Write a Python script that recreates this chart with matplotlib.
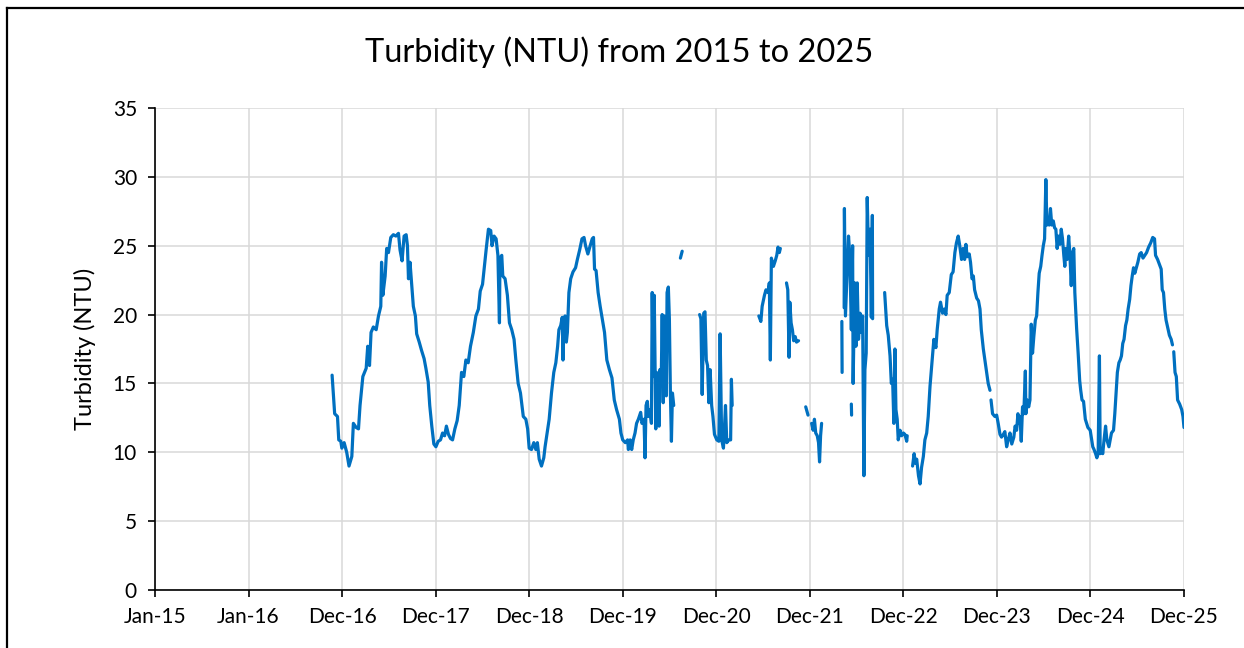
import matplotlib
matplotlib.use("Agg")
import matplotlib.pyplot as plt
import matplotlib.dates as mdates
from matplotlib.lines import Line2D
from datetime import datetime
import numpy as np

plt.rcParams['font.family'] = ['Lato', 'DejaVu Sans']

title = "Turbidity (NTU) from 2015 to 2025"
ylabel = "Turbidity (NTU)"
start = datetime(2015, 1, 1)
tick_step = 365          # Excel date axis major unit (days)
n_ticks = 12
y_ticks = [0, 5, 10, 15, 20, 25, 30, 35]

# days since 1 Jan 2015 and turbidity; None = gap in the record
days = [
    691, 701, 712, 717, 725, 729, 738, 748, 757, 768, 774, 785, 794, 800, 811, 824,
    830, 837, 843, 852, 863, 872, 881, 884, 889, 898, 904, 911, 920, 930, 940, 950,
    956, 964, 972, 980, 985, 989, 995, 1002, 1008, 1016, 1021, 1031, 1040, 1050, 1057,
    1066, 1072, 1080, 1088, 1096, 1105, 1114, 1122, 1130, 1137, 1145, 1153, 1161, 1170,
    1179, 1187, 1196, 1205, 1213, 1222, 1231, 1242, 1252, 1262, 1269, 1278, 1284, 1292,
    1301, 1310, 1315, 1323, 1331, 1338, 1344, 1346, 1353, 1357, 1366, 1375, 1383, 1392,
    1401, 1408, 1417, 1426, 1437, 1447, 1454, 1460, 1469, 1478, 1486, 1492, 1499, 1508,
    1517, 1522, 1530, 1538, 1547, 1556, 1564, 1571, 1576, 1583, 1589, 1592, 1594, 1600,
    1605, 1609, 1615, 1622, 1631, 1641, 1648, 1657, 1666, 1674, 1680, 1689, 1698, 1706,
    1711, 1715, 1721, 1729, 1737, 1745, 1754, 1763, 1773, 1783, 1792, 1801, 1812, 1818,
    1825, 1835, 1844, 1847, 1854, 1860, 1866, 1873, 1879, 1886, 1895, 1900, 1908, 1912,
    1916, 1921, 1925, 1931, 1937, 1940, 1944, 1948, 1952, 1954, 1957, 1962, 1967, 1970,
    1975, 1979, 1983, 1987, 1991, 1995, 1998, 2003, 2007, 2011, 2015, 2019, 2024, None,
    2050, 2057, None,
    2125, 2130, 2135, 2141, 2146, 2151, 2156, 2161, 2166, 2172, 2177, 2183, 2192, 2200,
    2205, 2211, 2218, 2226, 2231, 2239, 2246, 2249, 2252, None,
    2356, 2364, 2369, 2378, 2384, 2392, 2397, 2401, 2405, 2413, 2420, 2426, 2431, 2436,
    2440, None,
    2464, 2469, 2474, 2477, 2482, 2487, 2492, 2498, 2503, 2511, None,
    2539, 2548, None,
    2562, 2568, 2573, 2578, 2584, 2589, 2593, 2597, 2601, None,
    2680, 2681, None,
    2689, 2690, 2694, 2706, 2711, 2717, 2722, 2724, 2730, 2735, 2740, 2745, 2751, 2756,
    2761, 2766, 2770, 2775, 2779, 2784, 2790, 2795, 2799, 2800, None,
    2717, 2718, None,
    2847, 2855, 2861, 2868, 2873, 2878, 2883, 2887, 2891, 2896, 2900, 2907, 2913, 2920,
    2926, 2933, 2935, None,
    2956, 2962, 2967, 2972, 2979, 2985, 2991, 2998, 3004, 3011, 3017, 3024, 3030, 3039,
    3047, 3052, 3060, 3065, 3073, 3080, 3086, 3091, 3099, 3107, 3114, 3121, 3127, 3134,
    3140, 3147, 3153, 3159, 3164, 3169, 3177, 3182, 3188, 3193, 3198, 3206, 3213, 3219,
    3224, 3232, 3238, 3245, 3251, 3258, None,
    3262, 3268, 3277, 3284, 3290, 3297, 3303, 3310, 3316, 3323, 3329, 3336, 3343, 3351,
    3356, 3362, 3367, 3371, 3375, 3380, 3385, 3390, 3396, 3398, 3403, 3409, 3414, 3419,
    3424, 3429, 3435, 3440, 3445, 3450, 3456, 3461, 3466, 3471, 3476, 3480, 3485, 3489,
    3494, 3499, 3505, 3510, 3515, 3520, 3525, 3531, 3536, 3541, 3546, 3550, 3554, 3559,
    3565, 3570, 3575, 3580, 3585, 3589, 3596, 3602, 3608, 3612, 3617, 3623, 3630, 3640,
    3649, 3655, 3659, 3664, 3670, 3675, 3680, 3685, 3688, 3693, 3698, 3703, 3709, 3714,
    3722, 3727, 3732, 3740, 3745, 3750, 3755, 3761, 3766, 3771, 3776, 3781, 3787, 3792,
    3797, 3803, 3808, 3813, 3818, 3823, 3829, 3835, 3842, 3848, 3855, 3862, 3869, 3877,
    3885, 3893, 3900, 3904, 3912, 3920, 3926, 3930, 3935, 3940, 3945, 3952, 3958, 3965,
    3970, None,
    3975, 3980, 3985, 3990, 3998, 4006, 4011, 4015,
]

ntu = [
    15.6, 12.8, 12.6, 10.9, 10.8, 10.3, 10.7, 10.0, 9.0, 9.7, 12.1, 11.8, 11.7, 13.4, 15.5, 16.1,
    17.7, 16.3, 18.7, 19.1, 18.9, 19.9, 20.6, 23.8, 21.4, 22.8, 24.8, 24.5, 25.6, 25.8, 25.7, 25.9,
    24.7, 23.9, 25.7, 25.8, 25.0, 22.6, 23.8, 22.1, 20.6, 19.9, 18.6, 18.0, 17.4, 16.8, 16.1,
    15.1, 13.4, 11.9, 10.6, 10.4, 10.8, 10.9, 11.4, 11.2, 11.9, 11.3, 11.0, 10.9, 11.7,
    12.3, 13.4, 15.8, 15.5, 16.7, 16.5, 17.7, 18.7, 19.9, 20.4, 21.7, 22.2, 23.3, 24.7,
    26.2, 26.1, 25.0, 25.7, 25.5, 24.3, 19.4, 24.1, 24.3, 22.8, 22.6, 21.4, 19.4, 18.9,
    18.2, 16.7, 15.0, 14.3, 12.6, 12.4, 11.7, 10.3, 10.2, 10.7, 10.2, 10.7, 9.5, 9.0,
    9.6, 10.4, 11.4, 12.4, 14.3, 15.8, 16.5, 17.7, 18.9, 19.2, 19.8, 16.7, 19.7, 19.9,
    18.0, 18.7, 21.6, 22.6, 23.1, 23.4, 24.0, 24.7, 25.5, 25.6, 25.0, 24.4, 25.0, 25.5,
    25.6, 23.3, 23.2, 21.6, 20.6, 19.7, 18.7, 16.7, 16.0, 15.4, 13.8, 13.1, 12.4, 11.4,
    10.9, 10.7, 10.9, 10.2, 10.9, 10.2, 10.9, 11.4, 12.1, 12.4, 12.9, 12.1, 12.4, 9.6,
    13.4, 13.7, 12.6, 13.1, 12.1, 21.6, 15.5, 21.4, 14.8, 11.7, 15.8, 15.3, 11.9, 16.0,
    15.0, 20.0, 13.6, 19.9, 17.2, 14.1, 21.6, 22.0, 19.7, 14.3, 10.8, 14.3, 13.4, None,
    24.1, 24.6, None,
    20.0, 19.7, 14.2, 20.1, 20.2, 16.7, 16.3, 13.6, 16.0, 13.4, 12.6, 11.3, 10.9, 10.8,
    18.6, 10.9, 10.3, 13.4, 10.7, 10.9, 10.9, 15.3, 13.4, None,
    19.9, 19.5, 20.6, 21.4, 21.8, 21.6, 22.3, 16.7, 24.1, 23.5, 23.9, 24.3, 24.9, 24.5,
    24.8, None,
    22.3, 21.8, 16.9, 20.9, 19.4, 18.9, 18.1, 18.4, 18.0, 18.1, None,
    13.3, 12.7, None,
    12.1, 11.6, 12.4, 11.4, 11.2, 10.7, 9.3, 11.2, 12.1, None,
    19.5, 15.8, None,
    20.5, 27.7, 19.9, 25.7, 24.3, 18.9, 25.0, 15.0, 22.3, 17.7, 22.3, 18.2, 20.1, 18.7,
    19.9, 8.3, 16.0, 17.2, 28.5, 24.3, 26.2, 19.8, 27.2, 19.7, None,
    13.5, 12.7, None,
    21.6, 19.2, 18.5, 17.0, 15.0, 15.3, 12.1, 17.5, 13.1, 12.4, 10.9, 11.6, 11.2, 11.4,
    11.3, 10.8, 11.2, None,
    9.0, 9.9, 9.2, 9.5, 8.3, 7.7, 8.9, 9.7, 10.9, 11.4, 12.6, 14.8, 16.2, 18.2,
    17.6, 18.9, 20.4, 20.9, 20.1, 20.4, 20.0, 21.4, 21.6, 22.9, 23.1, 24.5, 25.2, 25.7,
    25.0, 24.0, 24.8, 24.0, 25.1, 24.2, 24.4, 23.8, 22.6, 22.8, 21.8, 21.2, 21.0, 20.4,
    18.9, 17.5, 16.7, 15.8, 15.0, 14.5, None,
    13.8, 12.8, 12.6, 12.7, 12.1, 11.3, 11.1, 11.3, 11.5, 10.4, 10.9, 11.4, 10.6, 11.1,
    11.9, 11.6, 12.8, 12.1, 12.6, 10.8, 13.3, 12.8, 15.9, 12.8, 13.8, 13.3, 13.8, 19.3,
    17.2, 18.4, 19.6, 19.9, 21.6, 23.0, 23.5, 24.3, 25.0, 25.5, 29.8, 26.5, 26.9, 26.5,
    27.7, 26.5, 26.8, 26.3, 26.2, 24.8, 25.7, 25.1, 26.2, 25.5, 24.3, 23.5, 24.8, 24.0,
    25.7, 24.3, 22.1, 24.5, 24.8, 21.6, 19.0, 17.2, 15.2, 14.5, 13.8, 13.7, 12.4, 11.8,
    11.6, 10.9, 10.4, 10.2, 9.9, 9.6, 9.9, 17.0, 9.9, 10.2, 9.9, 10.9, 11.9, 10.9,
    10.4, 10.9, 11.4, 11.6, 12.8, 14.3, 15.8, 16.5, 16.7, 17.0, 17.9, 18.2, 19.2, 19.6,
    20.4, 21.1, 22.1, 22.8, 23.4, 23.0, 23.4, 23.8, 24.4, 24.5, 24.1, 24.3, 24.5, 24.9,
    25.2, 25.6, 25.5, 24.3, 24.0, 23.6, 23.3, 21.8, 21.6, 20.4, 19.6, 19.0, 18.5, 18.2,
    17.8, None,
    17.3, 15.8, 15.5, 13.8, 13.5, 13.1, 12.6, 11.8,
]

base = mdates.date2num(start)
x = base + np.array([np.nan if d is None else d for d in days], dtype=float)
y = np.array([np.nan if v is None else v for v in ntu], dtype=float)

fig = plt.figure(figsize=(12.44, 6.48), dpi=100)
ax = fig.add_axes([155 / 1244, 58 / 648, 1029 / 1244, 482 / 648])

ax.plot(x, y, color="#0070C0", lw=2.3, solid_joinstyle="round", solid_capstyle="round")

ax.set_xlim(base, base + tick_step * (n_ticks - 1))
ax.set_ylim(0, 35)
ax.set_xticks([base + k * tick_step for k in range(n_ticks)])
ax.xaxis.set_major_formatter(mdates.DateFormatter("%b-%y"))
ax.set_yticks(y_ticks)

ax.grid(True, color="#D9D9D9", lw=1.1)
ax.set_axisbelow(True)
for s in ["top", "right"]:
    ax.spines[s].set_visible(False)
for s in ["left", "bottom"]:
    ax.spines[s].set_linewidth(1.2)
    ax.spines[s].set_color("black")
ax.tick_params(axis="both", direction="out", length=5, width=1.2, labelsize=15, color="black")
ax.tick_params(axis="x", pad=7)
ax.tick_params(axis="y", pad=8)

ax.set_ylabel(ylabel, fontsize=17)
ax.yaxis.set_label_coords(-0.057, 0.5)

fig.text(619 / 1244, 1 - 52 / 648, title, ha="center", va="center", fontsize=23.5)

# chart-area border (right and bottom edges fall outside the picture)
fig.add_artist(Line2D([7 / 1244, 7 / 1244], [0, 1 - 8 / 648], color="black", lw=1.6,
                      transform=fig.transFigure))
fig.add_artist(Line2D([7 / 1244, 1], [1 - 8 / 648, 1 - 8 / 648], color="black", lw=1.6,
                      transform=fig.transFigure))

fig.savefig("out.png", dpi=100)
